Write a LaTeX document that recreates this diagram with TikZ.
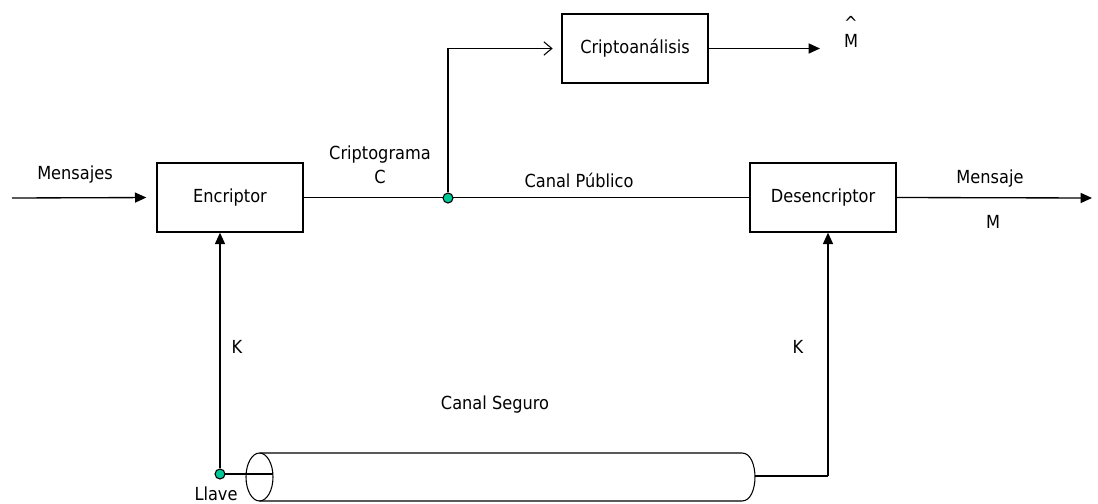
\documentclass[tikz,border=0pt]{standalone}
\usepackage{fontspec}
\setmainfont{DejaVu Sans Condensed}
\usetikzlibrary{arrows.meta}
\definecolor{dotc}{RGB}{0,200,150}
\begin{document}
\begin{tikzpicture}[x=0.75pt,y=-0.75pt,
  font=\fontsize{13.5pt}{15pt}\selectfont,
  box/.style={draw,line width=1pt,minimum width=109.5pt,minimum height=51.75pt,inner sep=0pt},
  wire/.style={line width=1pt},
  arr/.style={wire,-{Triangle[length=8.5pt,width=7.5pt]}},
  oarr/.style={wire,-{Straight Barb[length=6pt,width=10pt,line width=0.8pt]}},
  jdot/.style={circle,draw,line width=0.8pt,fill=dotc,minimum size=7.5pt,inner sep=0pt},
  lbl/.style={inner sep=0pt}]
\useasboundingbox (0,0) rectangle (1098,503);
% boxes
\node[box] (enc) at (230,197.5) {Encriptor};
\node[box] (dec) at (823,197.5) {Desencriptor};
\node[box] (cri) at (635,48.5) {Criptoanálisis};
% coordinates
\coordinate (min) at (12,198);
\coordinate (mh) at (820,48.5);
\coordinate (mout) at (1092,198);
\coordinate (kl) at (220,474);
\coordinate (cin) at (273,474);
\coordinate (cout) at (755,476);
\coordinate (kr) at (828,476);
% main line
\draw[arr,shorten >=7.5pt] (min) -- (enc.west);
\draw[wire] (enc.east) -- (dec.west);
\node[jdot] (j) at (448,198) {};
\draw[oarr,shorten >=6.5pt] (j) |- (cri.west);
\draw[arr] (cri.east) -- (mh);
\draw[arr] (dec.east) -- (mout);
% secure channel (cylinder)
\draw[line width=0.8pt] (259.5,453) -- (742,453)
  .. controls (759.3,453) and (759.3,501) .. (742,501) -- (259.5,501);
\draw[line width=0.8pt] (259.5,477) ellipse[x radius=13.5,y radius=24];
\draw[wire] (kl) -- (cin);
\node[jdot] (kd) at (kl) {};
\draw[arr] (kd) -- (kl |- enc.south);
\draw[wire] (cout) -- (kr);
\draw[arr] (kr) -- (kr |- dec.south);
% labels
\node[lbl] (lm) at (75,175) {Mensajes};
\node[lbl] (lc1) at (380,155) {Criptograma};
\node[lbl] (lc2) at (380,177) {C};
\node[lbl] (lcp) at (579,180) {Canal Público};
\node[lbl] (lms) at (990,179) {Mensaje};
\node[lbl] (lM) at (993,222) {M};
\node[lbl] (lk1) at (237,347) {K};
\node[lbl] (lk2) at (798,347) {K};
\node[lbl] (lcs) at (495,405) {Canal Seguro};
\node[lbl] (lll) at (216,494) {Llave};
\node[lbl] (lmh) at (851,32) {\shortstack{\textasciicircum\\M}};
\end{tikzpicture}
\end{document}
